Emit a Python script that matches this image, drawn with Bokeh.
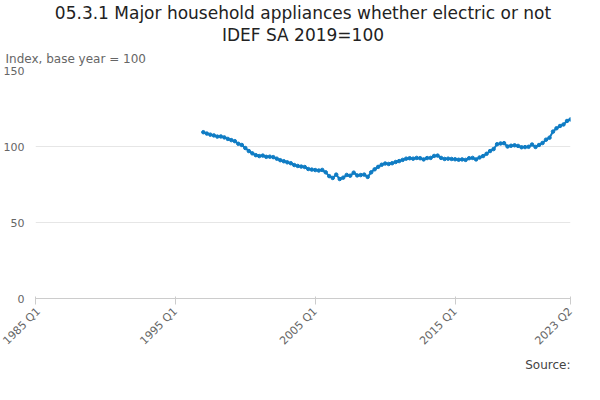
from bokeh.plotting import figure
from bokeh.models import Title, Legend, LegendItem, FixedTicker, Range1d
from bokeh.embed import file_html
from bokeh.resources import INLINE

tick_labels = ["1985 Q1", "1995 Q1", "2005 Q1", "2015 Q1", "2023 Q2"]
tick_pos = [0, 40, 80, 120, 153]
start_q = 48  # 1997 Q1
values = [109.4,108.5,107.8,107.3,106.5,106.6,106,105,104.2,103.5,101.8,101,99,97,95.5,94.3,
 93.7,94,93.2,93.3,93,92,91,90.3,89.6,89,87.8,87.2,86.8,86.5,85.2,84.8,84.5,84.2,84.6,83,
 80.5,79.3,81.5,78.6,79.5,81.3,80.8,82.8,81,81.2,81.5,80,83,85,86.6,88,88.8,88.5,89,89.8,
 90.4,91.2,92,92.3,92,92.5,92.3,91.5,92.4,92.5,93.8,94,92.5,91.8,92,91.8,91.6,91.3,91.5,
 91.2,92.3,92.5,91.5,92.8,93.7,95.2,97,98.3,101.5,102,102.2,100,100.5,100.8,100.4,99.5,
 99.6,99.8,101.3,99.7,101,102.3,104.5,105.8,109.8,112,113.5,114.5,116.8,117.8]
xs = list(range(start_q, start_q + len(values)))
series = "05.3.1 Major household appliances whether electric or not IDEF SA 2019=100"
color = "#0f7cc4"

p = figure(frame_width=535, frame_height=228, output_backend="svg", toolbar_location=None,
           x_range=Range1d(0, 153), y_range=Range1d(0, 150),
           min_border_left=5, min_border_right=12, min_border_top=2, min_border_bottom=0)
p.add_layout(Title(text="Source:", align="right", text_font_size="12px", standoff=0,
                   text_font_style="normal", text_color="#444444", text_font="DejaVu Sans"), "below")
p.add_layout(Title(text="Index, base year = 100", align="left", text_font_size="12px",
                   text_font_style="normal", text_color="#666666", text_font="DejaVu Sans",
                   offset=-30), "above")
p.add_layout(Title(text="IDEF SA 2019=100", align="center", text_font_size="17px", standoff=0,
                   text_font_style="normal", text_color="#222222", text_font="DejaVu Sans"), "above")
p.add_layout(Title(text="05.3.1 Major household appliances whether electric or not", align="center",
                   text_font_size="17px", text_font_style="normal", text_color="#222222", standoff=0,
                   text_font="DejaVu Sans"), "above")

l = p.line(xs, values, color=color, line_width=2)
c = p.scatter(xs, values, color=color, size=3.5)

p.xaxis.ticker = FixedTicker(ticks=tick_pos)
p.xaxis.major_label_overrides = {t: s for t, s in zip(tick_pos, tick_labels)}
p.xaxis.major_label_orientation = 0.785
p.yaxis.ticker = FixedTicker(ticks=[0, 50, 100, 150])
for ax in (p.xaxis, p.yaxis):
    ax.major_label_text_font = "DejaVu Sans"
    ax.major_label_text_font_size = "11px"
    ax.major_label_text_color = "#666666"
    ax.minor_tick_line_color = None
p.yaxis.axis_line_color = None
p.yaxis.major_tick_line_color = None
p.xaxis.axis_line_color = "#cccccc"
p.xaxis.major_tick_line_color = "#cccccc"
p.xgrid.grid_line_color = None
p.ygrid.grid_line_color = "#e6e6e6"
p.outline_line_color = None

legend = Legend(items=[LegendItem(label=series, renderers=[l, c])], location="center",
                orientation="horizontal",
                label_text_font="DejaVu Sans", label_text_font_size="12px",
                label_text_font_style="bold", label_text_color="#333333",
                border_line_color=None, padding=0, margin=4)
p.add_layout(legend, "below")

open("out.html", "w").write(file_html(p, INLINE))
